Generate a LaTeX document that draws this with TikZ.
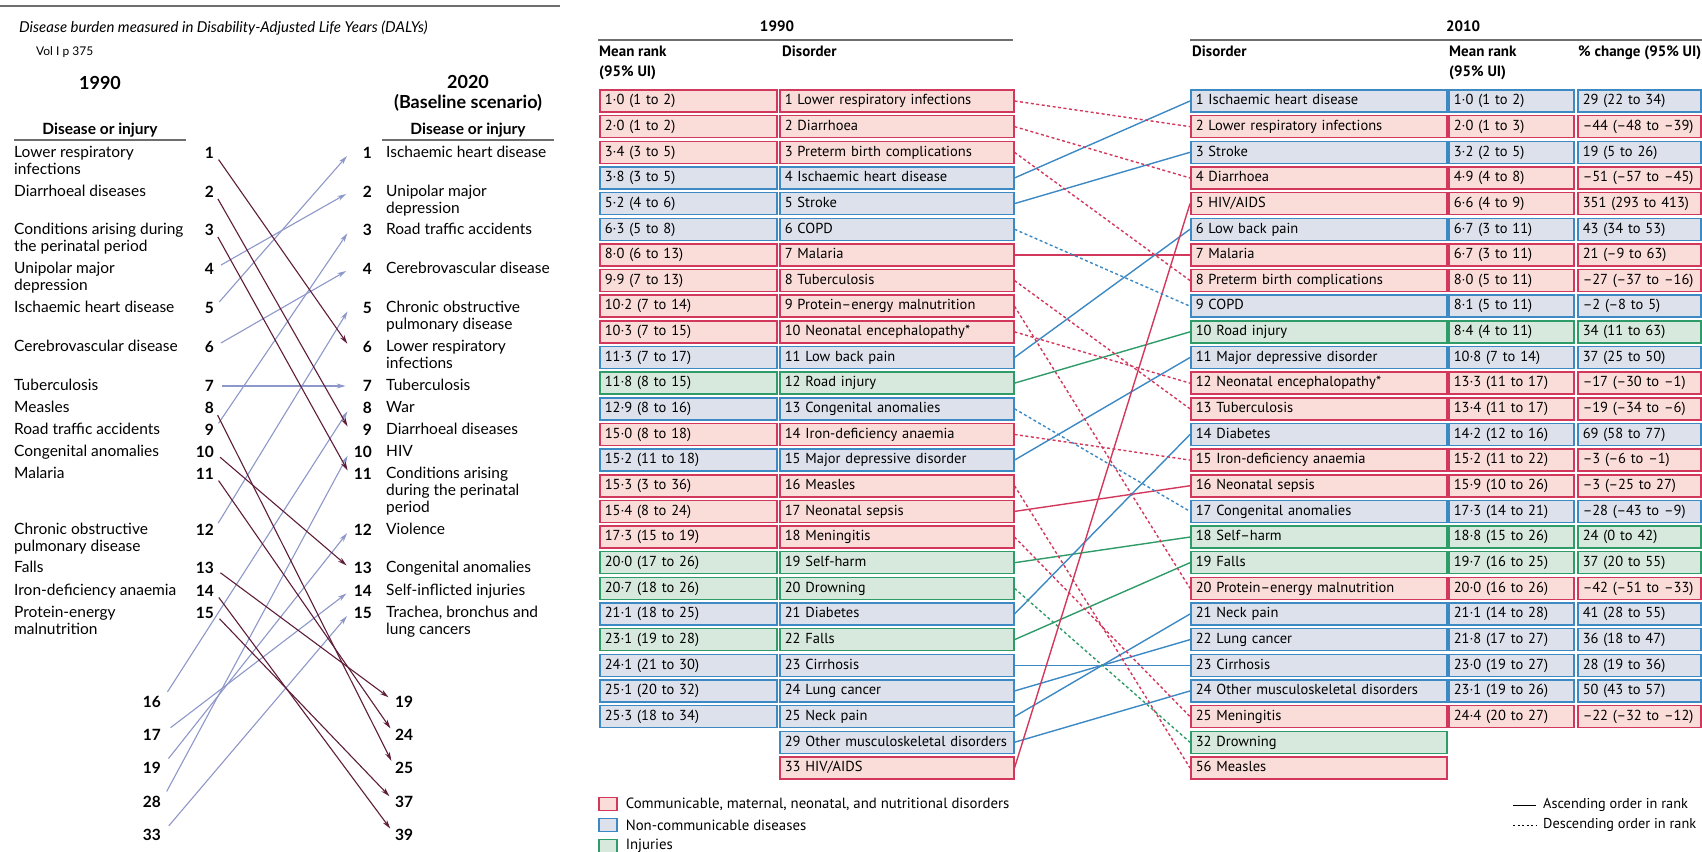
\documentclass[tikz,border=0pt]{standalone}
\usepackage{fontspec}
\setmainfont{PT Sans}
\newfontfamily\gillfont{Lato}
\usetikzlibrary{arrows.meta,positioning}

\definecolor{lcomm}{HTML}{D2385C}
\definecolor{fcomm}{HTML}{FADCD9}
\definecolor{lncd}{HTML}{3C89C4}
\definecolor{fncd}{HTML}{DCE1EC}
\definecolor{linj}{HTML}{2E9B68}
\definecolor{finj}{HTML}{D7E9DC}
\definecolor{upcol}{HTML}{8D97C9}
\definecolor{downcol}{HTML}{5E1D38}
\definecolor{rulegrey}{HTML}{6E6E6E}

\tikzset{
  cell/.style={draw, line width=1.5pt, minimum height=22pt, inner xsep=5pt, inner ysep=0pt,
    text height=10.5pt, text depth=3pt, anchor=west, align=left, font=\fontsize{14.5}{16}\selectfont},
  link/.style={line width=1.4pt},
  dashlink/.style={line width=1.4pt, dash pattern=on 3pt off 2.5pt},
  head/.style={font=\bfseries\fontsize{15}{20}\selectfont, inner sep=0pt, align=left},
  legbox/.style={draw, line width=1.2pt, minimum width=18pt, minimum height=13pt, inner sep=0pt},
  legtxt/.style={font=\fontsize{14.8}{16}\selectfont, inner sep=0pt},
  oldtxt/.style={font=\gillfont\fontsize{15.5}{17}\selectfont, inner sep=0pt, anchor=north west, align=left},
  oldnum/.style={font=\gillfont\bfseries\fontsize{15.5}{17}\selectfont, inner sep=0pt, text width=22pt,
    text height=11pt, text depth=0pt},
  oldhead/.style={font=\gillfont\bfseries\fontsize{15.5}{19}\selectfont, inner sep=0pt, align=center},
  rise/.style={upcol, line width=1.1pt, -{Stealth[length=9pt,width=5pt]}},
  fall/.style={downcol, line width=1.1pt, -{Stealth[length=9pt,width=5pt]}},
}

\begin{document}
\begin{tikzpicture}[x=1pt,y=-1pt]
\useasboundingbox (0,0) rectangle (1702,851);

% ---- left panel: 1990 vs 2020 projection
\draw[rulegrey, line width=2pt] (0,6) -- (560,6);
\node[font=\gillfont\itshape\fontsize{15}{17}\selectfont, anchor=west, inner sep=0pt] (gbd_title) at (19,28)
  {Disease burden measured in Disability-Adjusted Life Years (DALYs)};
\node[font=\gillfont\fontsize{12}{14}\selectfont, anchor=west, inner sep=0pt] (gbd_vol) at (36,52) {Vol I p 375};
\node[oldhead, font=\gillfont\bfseries\fontsize{18}{20}\selectfont] (yr_old) at (100,83) {1990};
\node[oldhead, font=\gillfont\bfseries\fontsize{18}{20}\selectfont] (yr_new) at (468,93) {2020\\(Baseline scenario)};
\node[oldhead] (dis_old) at (100,130) {Disease or injury};
\node[oldhead] (dis_new) at (468,130) {Disease or injury};
\draw[rulegrey, line width=1.3pt] (14,140) -- (186,140);
\draw[rulegrey, line width=1.3pt] (382,140) -- (554,140);

\foreach \n/\y/\txt in {
  1/153/{Lower respiratory\\infections}, 2/192/{Diarrhoeal diseases},
  3/230/{Conditions arising during\\the perinatal period}, 4/269/{Unipolar major\\depression},
  5/308/{Ischaemic heart disease}, 6/347/{Cerebrovascular disease}, 7/386/{Tuberculosis},
  8/408/{Measles}, 9/430/{Road traffic accidents}, 10/452/{Congenital anomalies},
  11/474/{Malaria}, 12/530/{Chronic obstructive\\pulmonary disease}, 13/568/{Falls},
  14/591/{Iron-deficiency anaemia}, 15/613/{Protein-energy\\malnutrition}}{
  \node[oldnum, anchor=east, align=right] (a_\n) at (214,\y) {\n};
  \node[oldtxt] (at_\n) at (14,\y-7) {\txt};
}
\foreach \n/\y/\txt in {
  1/153/{Ischaemic heart disease}, 2/192/{Unipolar major\\depression},
  3/230/{Road traffic accidents}, 4/269/{Cerebrovascular disease},
  5/308/{Chronic obstructive\\pulmonary disease}, 6/347/{Lower respiratory\\infections},
  7/386/{Tuberculosis}, 8/408/{War}, 9/430/{Diarrhoeal diseases}, 10/452/{HIV},
  11/474/{Conditions arising\\during the perinatal\\period}, 12/530/{Violence},
  13/568/{Congenital anomalies}, 14/591/{Self-inflicted injuries},
  15/613/{Trachea, bronchus and\\lung cancers}}{
  \node[oldnum, anchor=east, align=right] (b_\n) at (372,\y) {\n};
  \node[oldtxt] (bt_\n) at (386,\y-7) {\txt};
}
\foreach \n/\y in {16/702,17/735,19/768,28/802,33/835}
  \node[oldnum, anchor=east, align=right] (a_\n) at (161,\y) {\n};
\foreach \n/\y in {19/702,24/735,25/768,37/802,39/835}
  \node[oldnum, anchor=west, align=left] (b_\n) at (395,\y) {\n};

\foreach \s/\t in {4/2,5/1,6/4,7/7,9/3,12/5}
  \draw[rise, shorten <=8pt, shorten >=4pt] (a_\s.east) -- (b_\t.west);
\foreach \s/\t in {16/8,17/14,19/12,28/10,33/15}
  \draw[rise, shorten <=12pt, shorten >=4pt] (a_\s.east) -- (b_\t.west);
\foreach \s/\t in {1/6,2/9,3/11,10/13}
  \draw[fall, shorten <=8pt, shorten >=4pt] (a_\s.east) -- (b_\t.west);
\foreach \s/\t in {8/25,11/24,13/19,14/39,15/37}
  \draw[fall, shorten <=8pt, shorten >=8pt] (a_\s.east) -- (b_\t.west);

% ---- right panel: 1990 vs 2010
\node[head, anchor=center] (h_old) at (777,26) {1990};
\draw[rulegrey, line width=2pt] (598,40) -- (1013,40);
\node[head, anchor=north west] (h_rk_old) at (599,46) {Mean rank\\(95\% UI)};
\node[head, anchor=north west] (h_dis_old) at (782,46) {Disorder};

\node[head, anchor=center] (h_new) at (1463,26) {2010};
\draw[rulegrey, line width=2pt] (1190,40) -- (1702,40);
\node[head, anchor=north west] (h_dis_new) at (1192,46) {Disorder};
\node[head, anchor=north west] (h_rk_new) at (1449,46) {Mean rank\\(95\% UI)};
\node[head, anchor=north west] (h_pc) at (1578,46) {\% change (95\% UI)};

\foreach \i/\cat/\rk/\dis in {
  1/comm/1·0 (1 to 2)/1 Lower respiratory infections,
  2/comm/2·0 (1 to 2)/2 Diarrhoea,
  3/comm/3·4 (3 to 5)/3 Preterm birth complications,
  4/ncd/3·8 (3 to 5)/4 Ischaemic heart disease,
  5/ncd/5·2 (4 to 6)/5 Stroke,
  6/ncd/6·3 (5 to 8)/6 COPD,
  7/comm/8·0 (6 to 13)/7 Malaria,
  8/comm/9·9 (7 to 13)/8 Tuberculosis,
  9/comm/10·2 (7 to 14)/9 Protein–energy malnutrition,
  10/comm/10·3 (7 to 15)/10 Neonatal encephalopathy*,
  11/ncd/11·3 (7 to 17)/11 Low back pain,
  12/inj/11·8 (8 to 15)/12 Road injury,
  13/ncd/12·9 (8 to 16)/13 Congenital anomalies,
  14/comm/15·0 (8 to 18)/14 Iron-deficiency anaemia,
  15/ncd/15·2 (11 to 18)/15 Major depressive disorder,
  16/comm/15·3 (3 to 36)/16 Measles,
  17/comm/15·4 (8 to 24)/17 Neonatal sepsis,
  18/comm/17·3 (15 to 19)/18 Meningitis,
  19/inj/20·0 (17 to 26)/19 Self-harm,
  20/inj/20·7 (18 to 26)/20 Drowning,
  21/ncd/21·1 (18 to 25)/21 Diabetes,
  22/inj/23·1 (19 to 28)/22 Falls,
  23/ncd/24·1 (21 to 30)/23 Cirrhosis,
  24/ncd/25·1 (20 to 32)/24 Lung cancer,
  25/ncd/25·3 (18 to 34)/25 Neck pain}{
  \node[cell, draw=l\cat, fill=f\cat, text width=167pt] (m_\i) at (599,{101+(\i-1)*25.65}) {\rk};
  \node[cell, draw=l\cat, fill=f\cat, text width=224pt] (c_\i) at (779,{101+(\i-1)*25.65}) {\mbox{\dis}};
}
\node[cell, draw=lncd, fill=fncd, text width=224pt] (c_26) at (779,742.25) {\mbox{29 Other musculoskeletal disorders}};
\node[cell, draw=lcomm, fill=fcomm, text width=224pt] (c_27) at (779,767.9) {33 HIV/AIDS};

\foreach \i/\cat/\dis/\rk/\pc in {
  1/ncd/1 Ischaemic heart disease/1·0 (1 to 2)/29 (22 to 34),
  2/comm/2 Lower respiratory infections/2·0 (1 to 3)/–44 (–48 to –39),
  3/ncd/3 Stroke/3·2 (2 to 5)/19 (5 to 26),
  4/comm/4 Diarrhoea/4·9 (4 to 8)/–51 (–57 to –45),
  5/comm/{5 HIV/AIDS}/6·6 (4 to 9)/351 (293 to 413),
  6/ncd/6 Low back pain/6·7 (3 to 11)/43 (34 to 53),
  7/comm/7 Malaria/6·7 (3 to 11)/21 (–9 to 63),
  8/comm/8 Preterm birth complications/8·0 (5 to 11)/–27 (–37 to –16),
  9/ncd/9 COPD/8·1 (5 to 11)/–2 (–8 to 5),
  10/inj/10 Road injury/8·4 (4 to 11)/34 (11 to 63),
  11/ncd/11 Major depressive disorder/10·8 (7 to 14)/37 (25 to 50),
  12/comm/12 Neonatal encephalopathy*/13·3 (11 to 17)/–17 (–30 to –1),
  13/comm/13 Tuberculosis/13·4 (11 to 17)/–19 (–34 to –6),
  14/ncd/14 Diabetes/14·2 (12 to 16)/69 (58 to 77),
  15/comm/15 Iron-deficiency anaemia/15·2 (11 to 22)/–3 (–6 to –1),
  16/comm/16 Neonatal sepsis/15·9 (10 to 26)/–3 (–25 to 27),
  17/ncd/17 Congenital anomalies/17·3 (14 to 21)/–28 (–43 to –9),
  18/inj/18 Self–harm/18·8 (15 to 26)/24 (0 to 42),
  19/inj/19 Falls/19·7 (16 to 25)/37 (20 to 55),
  20/comm/20 Protein–energy malnutrition/20·0 (16 to 26)/–42 (–51 to –33),
  21/ncd/21 Neck pain/21·1 (14 to 28)/41 (28 to 55),
  22/ncd/22 Lung cancer/21·8 (17 to 27)/36 (18 to 47),
  23/ncd/23 Cirrhosis/23·0 (19 to 27)/28 (19 to 36),
  24/ncd/24 Other musculoskeletal disorders/23·1 (19 to 26)/50 (43 to 57),
  25/comm/25 Meningitis/24·4 (20 to 27)/–22 (–32 to –12)}{
  \node[cell, draw=l\cat, fill=f\cat, text width=246pt] (d_\i) at (1190,{101+(\i-1)*25.65}) {\mbox{\dis}};
  \node[cell, draw=l\cat, fill=f\cat, text width=115pt] (n_\i) at (1448,{101+(\i-1)*25.65}) {\mbox{\rk}};
  \node[cell, draw=l\cat, fill=f\cat, text width=113pt] (p_\i) at (1577,{101+(\i-1)*25.65}) {\mbox{\pc}};
}
\node[cell, draw=linj, fill=finj, text width=246pt] (d_26) at (1190,742.25) {32 Drowning};
\node[cell, draw=lcomm, fill=fcomm, text width=246pt] (d_27) at (1190,767.9) {56 Measles};

% rank changes
\foreach \s/\t/\cat in {4/1/ncd,5/3/ncd,7/7/comm,11/6/ncd,12/10/inj,15/11/ncd,17/16/comm,
    19/18/inj,21/14/ncd,22/19/inj,23/23/ncd,24/22/ncd,25/21/ncd,26/24/ncd,27/5/comm}
  \draw[link, l\cat] (c_\s.east) -- (d_\t.west);
\foreach \s/\t/\cat in {1/2/comm,2/4/comm,3/8/comm,6/9/ncd,8/13/comm,9/20/comm,10/12/comm,
    13/17/ncd,14/15/comm,16/27/comm,18/25/comm,20/26/inj}
  \draw[dashlink, l\cat] (c_\s.east) -- (d_\t.west);

% legends
\node[legbox, draw=lcomm, fill=fcomm] (key_c) at (608,804) {};
\node[legtxt, right=8pt of key_c] (key_ct) {Communicable, maternal, neonatal, and nutritional disorders};
\node[legbox, draw=lncd, fill=fncd] (key_n) at (608,825) {};
\node[legtxt, right=8pt of key_n] (key_nt) {Non-communicable diseases};
\node[legbox, draw=linj, fill=finj] (key_i) at (608,846) {};
\node[legtxt, right=8pt of key_i] (key_it) {Injuries};

\coordinate (asc_a) at (1513,805);
\coordinate (asc_b) at (1536,805);
\draw[line width=1pt] (asc_a) -- (asc_b);
\node[legtxt, anchor=west, font=\fontsize{14.3}{16}\selectfont] (asc_t) at (1543,805) {Ascending order in rank};
\coordinate (desc_a) at (1513,825);
\coordinate (desc_b) at (1536,825);
\draw[line width=1pt, dash pattern=on 2pt off 2.5pt] (desc_a) -- (desc_b);
\node[legtxt, anchor=west, font=\fontsize{14.3}{16}\selectfont] (desc_t) at (1543,825) {Descending order in rank};
\end{tikzpicture}
\end{document}
